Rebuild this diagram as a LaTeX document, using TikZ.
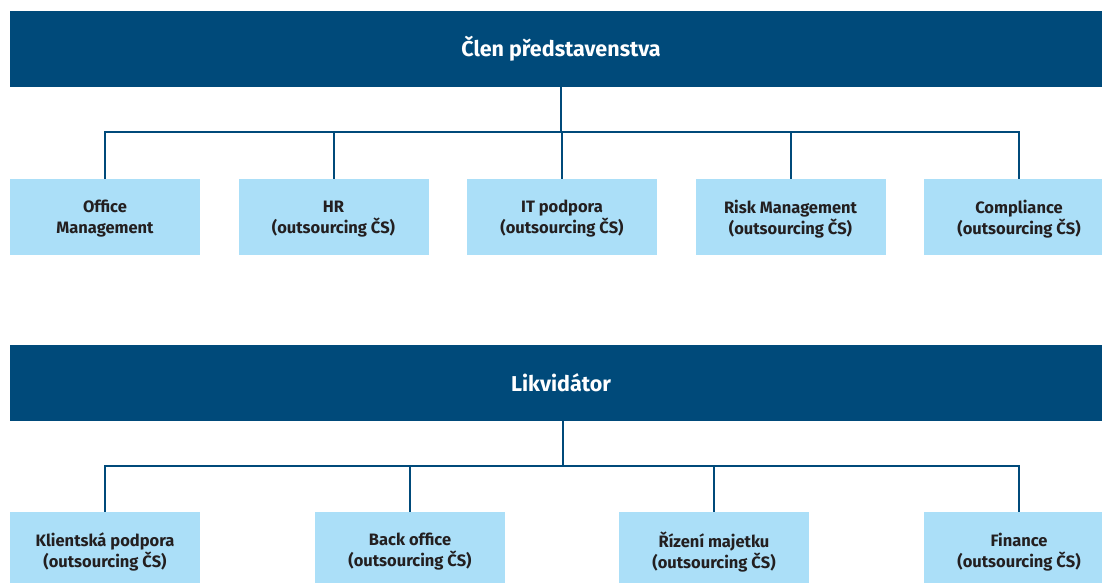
\documentclass[tikz,border=0pt]{standalone}
\usepackage{fontspec}
\setmainfont{Fira Sans}
\usepackage{xcolor}
\usepackage{tikz}
\usetikzlibrary{positioning}

\definecolor{darkblue}{RGB}{0,74,122}
\definecolor{lightblue}{RGB}{171,223,248}
\definecolor{textgray}{RGB}{35,31,32}

\begin{document}
\begin{tikzpicture}[x=1pt, y=-1pt,
            headbar/.style = {fill=darkblue, text=white, font=\bfseries\fontsize{21.5}{24}\selectfont,
                              minimum width=1102pt, minimum height=76pt, inner sep=0pt},
            unitbox/.style = {fill=lightblue, text=textgray, font=\bfseries\fontsize{16.5}{21}\selectfont,
                              align=center, minimum width=190pt, minimum height=76pt, inner sep=0pt,
                              text depth=-4pt},
            conn/.style = {draw=darkblue, line width=2pt}]
        \useasboundingbox (0,0) rectangle (1102,582);
        % upper part
        \node[headbar] (clen) at (561,49) {Člen představenstva};
        \coordinate (j1) at (561,132);
        \foreach \i/\x/\txt in {1/105/{Office\\Management},
                                2/333.5/{HR\\(outsourcing ČS)},
                                3/562/{IT podpora\\(outsourcing ČS)},
                                4/790.5/{Risk Management\\(outsourcing ČS)},
                                5/1019/{Compliance\\(outsourcing ČS)}}
            \node[unitbox] (u\i) at (\x,217) {\txt};
        \draw[conn] (clen.south) -- (j1);
        \foreach \i in {1,...,5}
            \draw[conn] (j1) -| (u\i.north);
        % lower part
        \node[headbar] (likv) at (561,383) {Likvidátor};
        \coordinate (j2) at (563,466);
        \foreach \i/\x/\txt in {1/105/{Klientská podpora\\(outsourcing ČS)},
                                2/410/{Back office\\(outsourcing ČS)},
                                3/714/{Řízení majetku\\(outsourcing ČS)},
                                4/1019/{Finance\\(outsourcing ČS)}}
            \node[unitbox] (l\i) at (\x,550) {\txt};
        \draw[conn] (likv.south -| j2) -- (j2);
        \foreach \i in {1,...,4}
            \draw[conn] (j2) -| (l\i.north);
\end{tikzpicture}
\end{document}
